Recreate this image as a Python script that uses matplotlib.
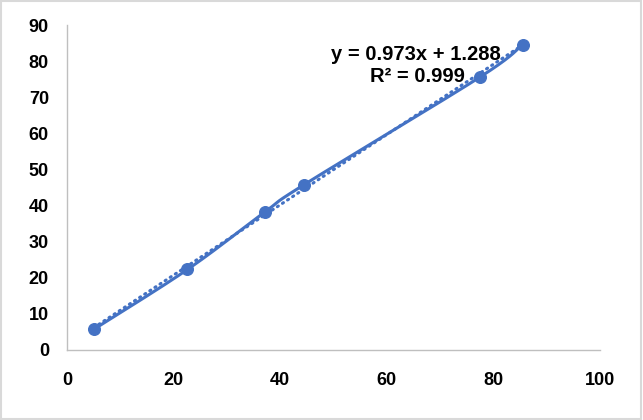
import numpy as np
import matplotlib.pyplot as plt
from matplotlib.patches import Rectangle

# data
xValues = [5.0, 22.6, 37.1, 44.5, 77.5, 85.5]
yValues = [5.7, 22.3, 38.2, 45.8, 75.6, 84.6]
slope = 0.973
intercept = 1.288
rSquared = 0.999

blue = "#4472C4"
plt.rcParams["font.family"] = ["Liberation Sans", "DejaVu Sans"]


def smoothCurve(xs, ys, steps=30):
    # Excel style bezier smoothing (catmull-rom, tension 1/6)
    pts = np.column_stack([xs, ys])
    out = [pts[0]]
    for i in range(len(pts) - 1):
        p0 = pts[i - 1] if i > 0 else pts[i]
        p1 = pts[i]
        p2 = pts[i + 1]
        p3 = pts[i + 2] if i + 2 < len(pts) else pts[i + 1]
        c1 = p1 + (p2 - p0) / 6
        c2 = p2 - (p3 - p1) / 6
        t = np.linspace(0, 1, steps)[1:, None]
        seg = (1 - t) ** 3 * p1 + 3 * (1 - t) ** 2 * t * c1 + 3 * (1 - t) * t ** 2 * c2 + t ** 3 * p2
        out.extend(seg)
    out = np.array(out)
    return out[:, 0], out[:, 1]


W, H = 643, 420
fig = plt.figure(figsize=(W / 100, H / 100), dpi=100)
ax = fig.add_axes([67 / W, 1 - 350 / H, 533 / W, 325 / H])

sx, sy = smoothCurve(xValues, yValues)
ax.plot(sx, sy, color=blue, linewidth=2.2, zorder=3)
ax.scatter(xValues, yValues, s=70, color=blue, zorder=4)

tx = np.array([min(xValues), max(xValues)])
ax.plot(tx, slope * tx + intercept, color=blue, linewidth=2.2,
        linestyle=(0, (0.4, 1.6)), dash_capstyle="round", zorder=2)

fig.text(416 / W, 1 - 55 / H, f"y = {slope}x + {intercept}", ha="center", va="center",
         fontsize=14.5, fontweight="bold")
fig.text(417 / W, 1 - 77 / H, f"R² = {rSquared}", ha="center", va="center",
         fontsize=14.5, fontweight="bold")

ax.set_xlim(0, 100)
ax.set_ylim(0, 90)
ax.set_xticks(range(0, 101, 20))
ax.set_yticks(range(0, 91, 10))
ax.tick_params(length=0, labelsize=13)
ax.tick_params(axis="x", pad=16)
ax.tick_params(axis="y", pad=13)
for lbl in ax.get_xticklabels() + ax.get_yticklabels():
    lbl.set_fontweight("bold")
for side in ["top", "right"]:
    ax.spines[side].set_visible(False)
for side in ["left", "bottom"]:
    ax.spines[side].set_color("#bfbfbf")
    ax.spines[side].set_linewidth(1)

fig.patches.append(Rectangle((0.002, 0.003), 0.995, 0.994, transform=fig.transFigure,
                             fill=False, edgecolor="#d9d9d9", linewidth=1.5))

fig.savefig("out.png", dpi=100)
